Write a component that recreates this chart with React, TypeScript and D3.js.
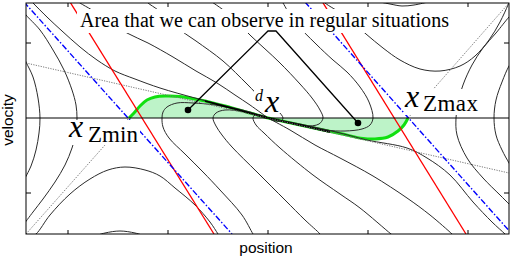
import React from "react";
import * as d3 from "d3";

type P = [number, number];

// axis ticks (position / velocity, arbitrary units)
const xTicks = [-2, -1, 0, 1, 2];
const yTicks = [-0.75, 0.75];

// phase trajectories [position, velocity]
const trajL1: P[] = [[-2.45,0.63],[-2.42,0.56],[-2.35,0.41],[-2.30,0.20],[-2.28,0],[-2.29,-0.15],[-2.32,-0.32],[-2.37,-0.48],[-2.44,-0.62]];
const trajL2: P[] = [[-2.44,1.06],[-2.42,1.03],[-2.28,0.88],[-2.15,0.68],[-2.04,0.48],[-1.96,0.28],[-1.92,0.13],[-1.91,0],[-1.92,-0.14],[-1.96,-0.30],[-2.03,-0.47],[-2.13,-0.64],[-2.25,-0.81],[-2.35,-0.94],[-2.44,-1.06]];
const trajP1: P[] = [[-2.38,1.18],[-2.35,1.15],[-2.20,1.00],[-2.06,0.87],[-1.88,0.71],[-1.71,0.58],[-1.53,0.47],[-1.33,0.39],[-1.08,0.30],[-0.73,0.20],[-0.38,0.11],[-0.18,0.06],[0,0]];
const trajL4: P[] = [[-1.92,1.18],[-1.88,1.15],[-1.76,1.08],[-1.58,0.96],[-1.41,0.85],[-1.20,0.75],[-0.95,0.61],[-0.72,0.47],[-0.51,0.35],[-0.33,0.23],[-0.18,0.13],[0,0]];
const trajR283: P[] = [[-1.23,1.18],[-1.20,1.15],[-1.10,1.08],[-0.92,0.91],[-0.72,0.77],[-0.45,0.57],[-0.21,0.34],[-0.04,0.17],[0.10,0.07],[0.15,0],[0.13,-0.03],[0.07,-0.03],[0,0]];
const trajR323: P[] = [[-0.59,1.18],[-0.56,1.16],[-0.46,1.09],[-0.37,1.02],[-0.17,0.82],[0.11,0.56],[0.32,0.34],[0.44,0.20],[0.52,0.08],[0.55,0],[0.51,-0.06],[0.37,-0.08],[0.17,-0.04],[0,0]];
const trajR374: P[] = [[0.13,1.18],[0.15,1.15],[0.26,0.97],[0.48,0.74],[0.65,0.58],[0.79,0.46],[0.92,0.31],[1.01,0.16],[1.05,0],[1.02,-0.07],[0.94,-0.11],[0.77,-0.13],[0.57,-0.12],[0.32,-0.07],[0,0]];
const trajL162: P[] = [[0,0],[-0.28,0.08],[-0.53,0.13],[-0.75,0.15],[-0.91,0.15],[-1.01,0.11],[-1.05,0.06],[-1.06,0],[-1.05,-0.09],[-0.99,-0.20],[-0.83,-0.36],[-0.65,-0.54],[-0.48,-0.72],[-0.26,-0.97],[-0.15,-1.16],[-0.13,-1.19]];
const trajL213: P[] = [[0,0],[-0.23,0.06],[-0.43,0.08],[-0.52,0.05],[-0.55,0],[-0.52,-0.08],[-0.46,-0.17],[-0.36,-0.29],[-0.11,-0.54],[0.17,-0.82],[0.37,-1.02],[0.52,-1.16],[0.54,-1.19]];
const trajL253: P[] = [[0,0],[-0.08,0.03],[-0.13,0.03],[-0.15,0],[-0.12,-0.07],[-0.04,-0.15],[0.12,-0.30],[0.45,-0.57],[0.72,-0.76],[0.92,-0.90],[1.23,-1.16],[1.27,-1.19]];
const trajP1b: P[] = [[0,0],[0.32,-0.06],[0.72,-0.15],[0.99,-0.22],[1.39,-0.30],[1.59,-0.40],[1.82,-0.57],[2.05,-0.84],[2.24,-1.04],[2.37,-1.16],[2.40,-1.19]];
const trajL4b: P[] = [[0,0],[0.22,-0.12],[0.47,-0.27],[0.72,-0.40],[1.05,-0.58],[1.39,-0.80],[1.62,-0.97],[1.84,-1.16],[1.87,-1.19]];
const trajR2: P[] = [[2.44,1.04],[2.41,1.01],[2.28,0.85],[2.15,0.70],[2.04,0.53],[1.95,0.33],[1.90,0.15],[1.88,0],[1.89,-0.17],[1.99,-0.40],[2.15,-0.60],[2.32,-0.77],[2.41,-0.86],[2.44,-0.89]];
const trajR1: P[] = [[2.44,0.56],[2.41,0.52],[2.34,0.36],[2.28,0.18],[2.26,0],[2.28,-0.17],[2.34,-0.32],[2.41,-0.45],[2.44,-0.50]];
const trajHump: P[] = [[-2.38,-1.19],[-2.32,-1.16],[-2.18,-0.97],[-1.98,-0.76],[-1.78,-0.61],[-1.60,-0.52],[-1.43,-0.49],[-1.23,-0.52],[-1.08,-0.58],[-0.93,-0.70],[-0.73,-0.87],[-0.58,-1.04],[-0.50,-1.16],[-0.48,-1.19]];
const trajU: P[] = [[0.54,1.18],[0.57,1.15],[0.77,1.02],[0.98,0.84],[1.15,0.70],[1.32,0.58],[1.52,0.49],[1.72,0.47],[1.92,0.52],[2.07,0.62],[2.21,0.78],[2.32,0.96],[2.40,1.13],[2.42,1.18]];
const trajBottomHump: P[] = [[-1.73,-1.18],[-1.63,-1.15],[-1.48,-1.13],[-1.33,-1.15],[-1.23,-1.18]];
const trajTopHump: P[] = [[1.07,1.17],[1.22,1.14],[1.34,1.12],[1.46,1.13],[1.60,1.16]];

const trajectories: P[][] = [
  trajL1, trajL2, trajP1, trajL4, trajR283, trajR323, trajR374,
  trajL162, trajL213, trajL253, trajP1b, trajL4b, trajR2, trajR1,
  trajHump, trajU, trajBottomHump, trajTopHump,
];

// converging slow trajectory near the equilibrium
const slowTrajectory: P[] = [[-0.63,0.17],[-0.33,0.09],[0,0],[0.32,-0.07],[0.62,-0.14]];

// observable area boundaries
const greenUpper: P[] = [[-1.39,0],[-1.34,0.05],[-1.28,0.12],[-1.21,0.18],[-1.13,0.21],[-1.03,0.22],[-0.88,0.215],[-0.68,0.18],[-0.43,0.12],[-0.18,0.05],[0,0]];
const greenLower: P[] = [[0,0],[0.32,-0.07],[0.72,-0.155],[0.95,-0.205],[1.07,-0.21],[1.20,-0.19],[1.30,-0.13],[1.36,-0.07],[1.40,0]];

// straight lines
const redLines: P[][] = [
  [[-1.98,1.16],[-0.54,-1.16]],
  [[0.545,1.16],[1.98,-1.16]],
];
const blueLines: P[][] = [
  [[-2.44,1.16],[-0.36,-1.16]],
  [[0.37,1.16],[2.44,-1.16]],
];
const dottedLines: P[][] = [
  [[-2.42,0.55],[2.41,-0.55]],
  [[-2.42,-1.16],[-1.39,0]],
  [[1.40,0],[2.41,1.15]],
];

// annotation pointer (dot, apex, apex, dot)
const pointer: P[] = [[-0.80,0.08],[0,0.87],[0.08,0.87],[0.90,-0.05]];

export default function App() {
  const W = 512, H = 260;
  const x = d3.scaleLinear().domain([-2.42, 2.41]).range([26, 509]);
  const y = d3.scaleLinear().domain([-1.16, 1.15]).range([234, 3]);
  const curve = d3.line<P>().x(d => x(d[0])).y(d => y(d[1])).curve(d3.curveCatmullRom.alpha(0.5));
  const straight = d3.line<P>().x(d => x(d[0])).y(d => y(d[1]));
  const [x0, x1] = x.range();
  const [yb, yt] = y.range();

  const serif = "'Liberation Serif', 'Times New Roman', serif";
  const sans = "'Liberation Sans', Arial, sans-serif";

  return (
    <svg width={W} height={H} style={{ position: "absolute", left: 0, top: 0, background: "#fff" }}>
      <defs>
        <clipPath id="plot">
          <rect x={x0} y={yt} width={x1 - x0} height={yb - yt} />
        </clipPath>
      </defs>
      <rect x={0} y={0} width={W} height={H} fill="#fff" />
      <g clipPath="url(#plot)">
        <path d={(curve(greenUpper) || "") + "Z"} fill="#bdf3c8" stroke="none" />
        <path d={(curve(greenLower) || "") + "Z"} fill="#bdf3c8" stroke="none" />
        <path d={curve(greenUpper) || ""} fill="none" stroke="#10e010" strokeWidth={3} />
        <path d={curve(greenLower) || ""} fill="none" stroke="#10e010" strokeWidth={3} />
        {trajectories.map((t, i) => (
          <path key={i} d={curve(t) || ""} fill="none" stroke="#2b2b2b" strokeWidth={1} />
        ))}
        <path d={curve(slowTrajectory) || ""} fill="none" stroke="#000" strokeWidth={1.8} />
        {dottedLines.map((l, i) => (
          <path key={i} d={straight(l) || ""} fill="none" stroke="#777" strokeWidth={1} strokeDasharray="1.2,1.3" />
        ))}
        {redLines.map((l, i) => (
          <path key={i} d={straight(l) || ""} fill="none" stroke="#ff0000" strokeWidth={1.3} />
        ))}
        {blueLines.map((l, i) => (
          <path key={i} d={straight(l) || ""} fill="none" stroke="#0000ff" strokeWidth={1.4} strokeDasharray="6,2,1.5,2" />
        ))}
        <line x1={x0} x2={x1} y1={y(0)} y2={y(0)} stroke="#000" strokeWidth={1} />
      </g>
      {/* frame and ticks */}
      <rect x={x0} y={yt} width={x1 - x0} height={yb - yt} fill="none" stroke="#000" strokeWidth={1} />
      {xTicks.map(t => (
        <g key={"x" + t}>
          <line x1={x(t)} x2={x(t)} y1={yb} y2={yb - 4} stroke="#000" />
          <line x1={x(t)} x2={x(t)} y1={yt} y2={yt + 4} stroke="#000" />
        </g>
      ))}
      {yTicks.map(t => (
        <g key={"y" + t}>
          <line x1={x0} x2={x0 + 5} y1={y(t)} y2={y(t)} stroke="#000" />
          <line x1={x1} x2={x1 - 5} y1={y(t)} y2={y(t)} stroke="#000" />
        </g>
      ))}
      {/* label backgrounds */}
      <rect x={77} y={9} width={380} height={24} fill="#fff" />
      <rect x={67} y={120} width={73} height={25} fill="#fff" />
      <rect x={404} y={89} width={76} height={26} fill="#fff" />
      <rect x={254} y={88} width={11} height={14} fill="#fff" />
      <rect x={265} y={97} width={21} height={16} fill="#fff" />
      {/* texts */}
      <text x={80} y={27} fontFamily={serif} fontSize={20} textLength={369} lengthAdjust="spacing">Area that we can observe in regular situations</text>
      <text x={69} y={137} fontFamily={serif} fontSize={32} fontStyle="italic">x</text>
      <text x={88} y={142} fontFamily={serif} fontSize={23} textLength={50} lengthAdjust="spacing">Zmin</text>
      <text x={405} y={107} fontFamily={serif} fontSize={32} fontStyle="italic">x</text>
      <text x={423} y={111} fontFamily={serif} fontSize={23} textLength={55} lengthAdjust="spacing">Zmax</text>
      <text x={255} y={101} fontFamily={serif} fontSize={16} fontStyle="italic">d</text>
      <text x={265} y={112} fontFamily={serif} fontSize={32} fontStyle="italic">x</text>
      {/* pointer */}
      <path d={straight(pointer) || ""} fill="none" stroke="#000" strokeWidth={1.3} />
      <circle cx={x(pointer[0][0])} cy={y(pointer[0][1])} r={3.3} fill="#000" />
      <circle cx={x(pointer[3][0])} cy={y(pointer[3][1])} r={3.3} fill="#000" />
      {/* axis labels */}
      <text x={266} y={253} fontFamily={sans} fontSize={15.5} textAnchor="middle">position</text>
      <text transform="translate(12.5,120) rotate(-90)" fontFamily={sans} fontSize={15.5} textAnchor="middle">velocity</text>
    </svg>
  );
}
